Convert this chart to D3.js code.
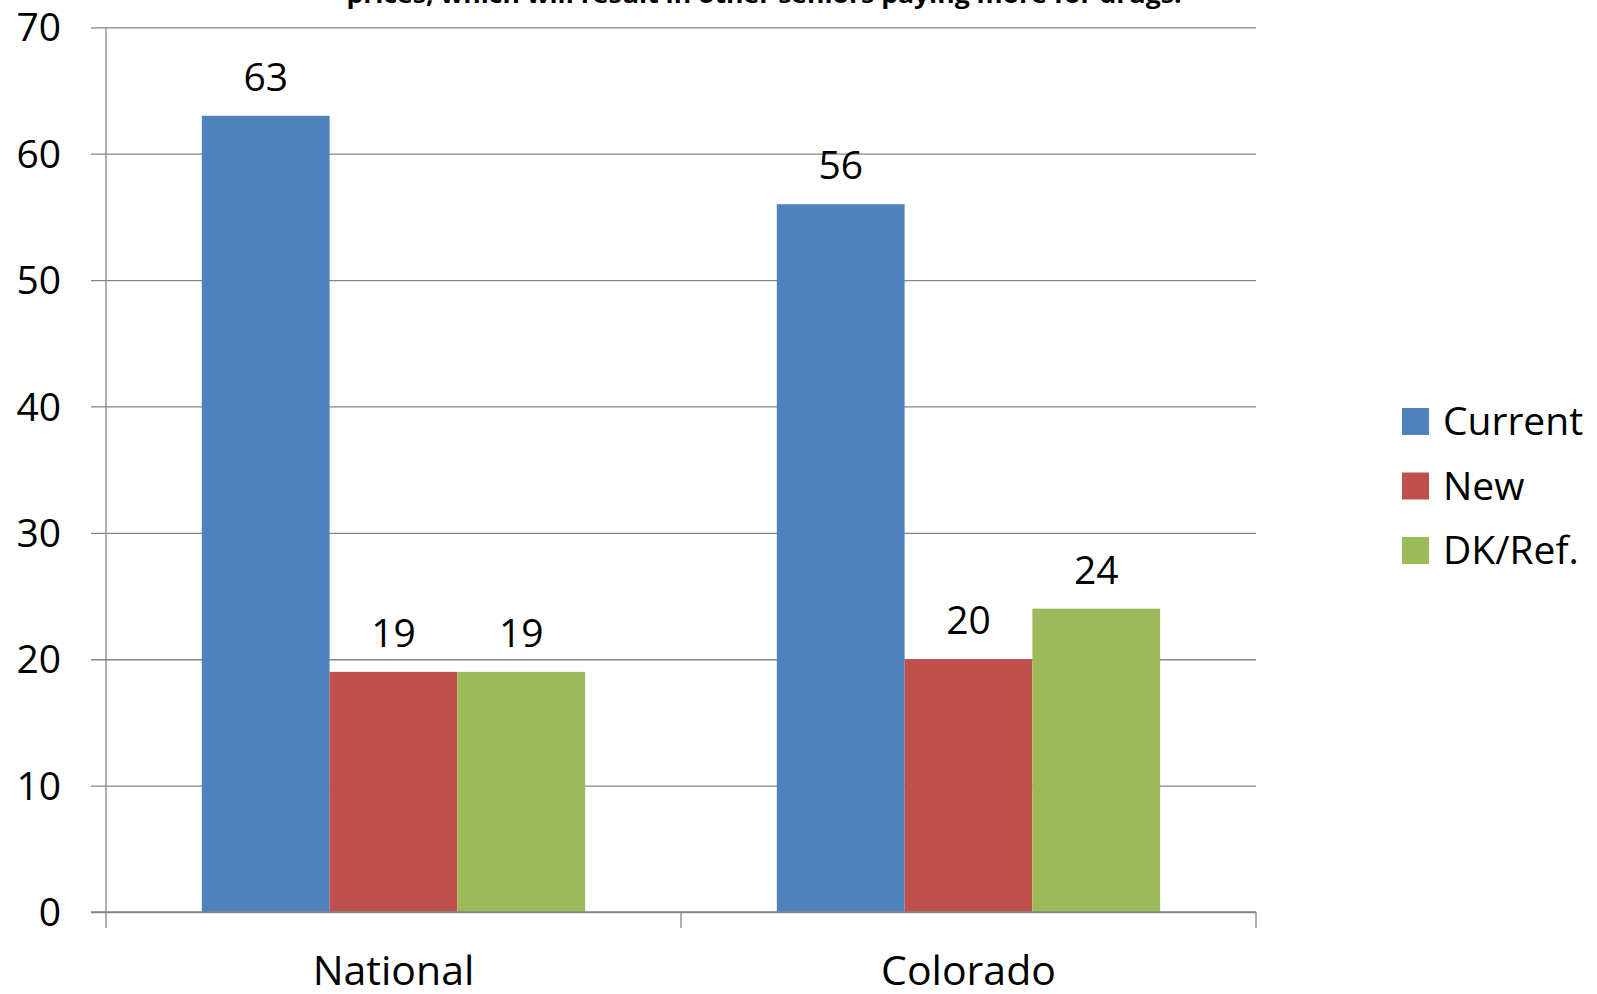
<!DOCTYPE html>
<html>
<head>
<meta charset="utf-8">
<script src="https://cdn.jsdelivr.net/npm/d3@7"></script>
<style>
  html, body { margin: 0; padding: 0; background: #fff; }
  svg { display: block; }
  text { font-family: "Open Sans", sans-serif; fill: #000; }
</style>
</head>
<body>
<script>
const categories = ["National", "Colorado"];
const seriesNames = ["Current", "New", "DK/Ref."];
const current = [63, 56];
const newer = [19, 20];
const dkref = [19, 24];
const yTicks = [0, 10, 20, 30, 40, 50, 60, 70];
const titleText = "prices, which will result in other seniors paying more for drugs.";
const colors = ["#4F81BD", "#C0504D", "#9BBB59"];

const seriesValues = [current, newer, dkref];

const W = 1597, H = 994;
const plotLeft = 106, plotRight = 1256, plotTop = 27.3, plotBottom = 912;

const svg = d3.select("body").append("svg").attr("width", W).attr("height", H);

const x0 = d3.scaleBand().domain(categories).range([plotLeft, plotRight]).paddingInner(0).paddingOuter(0);
const x1 = d3.scaleBand().domain(seriesNames).range([0, x0.bandwidth()]).paddingInner(0).paddingOuter(0.75);
const y = d3.scaleLinear().domain([0, 70]).range([plotBottom, plotTop]);

// title (partially cut off, as in the reference)
svg.append("text")
  .attr("x", 764).attr("y", 3)
  .attr("text-anchor", "middle")
  .attr("font-weight", "bold")
  .attr("font-size", 24)
  .attr("textLength", 835).attr("lengthAdjust", "spacingAndGlyphs")
  .text(titleText);

// gridlines + y tick labels
const yAxis = d3.axisLeft(y).tickValues(yTicks).tickSize(plotRight - plotLeft + 15).tickPadding(30).tickFormat(d3.format("d"));
const gy = svg.append("g").attr("transform", `translate(${plotRight},0)`).call(yAxis);
gy.select(".domain").remove();
gy.selectAll(".tick line").attr("stroke", "#868686").attr("stroke-width", 1.3);
gy.selectAll(".tick text")
  .attr("x", -(plotRight - 61)).attr("text-anchor", "end")
  .attr("font-size", 39).attr("font-family", "Open Sans, sans-serif").attr("fill", "#000").attr("dy", "0.35em");

// y axis line
svg.append("line").attr("x1", plotLeft).attr("x2", plotLeft).attr("y1", plotTop).attr("y2", plotBottom)
  .attr("stroke", "#868686").attr("stroke-width", 1.3);

// bars
const groups = svg.append("g").selectAll("g").data(categories).join("g")
  .attr("transform", d => `translate(${x0(d)},0)`);

groups.each(function(cat, ci) {
  const g = d3.select(this);
  seriesNames.forEach((s, si) => {
    const v = seriesValues[si][ci];
    g.append("rect")
      .attr("x", x1(s)).attr("width", x1.bandwidth())
      .attr("y", y(v)).attr("height", y(0) - y(v))
      .attr("fill", colors[si]);
    g.append("text")
      .attr("x", x1(s) + x1.bandwidth() / 2)
      .attr("y", y(v) - 25)
      .attr("text-anchor", "middle")
      .attr("font-size", 39)
      .text(v);
  });
});

// x axis
const xAxisG = svg.append("g");
xAxisG.append("line").attr("x1", plotLeft - 15).attr("x2", plotRight).attr("y1", plotBottom).attr("y2", plotBottom)
  .attr("stroke", "#868686").attr("stroke-width", 1.5);
const boundaries = categories.map(c => x0(c)).concat([x0(categories[categories.length - 1]) + x0.bandwidth()]);
xAxisG.selectAll("line.tk").data(boundaries).join("line").attr("class", "tk")
  .attr("x1", d => d).attr("x2", d => d).attr("y1", plotBottom).attr("y2", plotBottom + 16)
  .attr("stroke", "#868686").attr("stroke-width", 1.3);
xAxisG.selectAll("text").data(categories).join("text")
  .attr("x", d => x0(d) + x0.bandwidth() / 2)
  .attr("y", 985)
  .attr("text-anchor", "middle")
  .attr("font-size", 41)
  .text(d => d);

// legend
const legend = svg.append("g").selectAll("g").data(seriesNames).join("g")
  .attr("transform", (d, i) => `translate(1402, ${408 + i * 64.5})`);
legend.append("rect").attr("width", 27).attr("height", 27).attr("fill", (d, i) => colors[i]);
legend.append("text").attr("x", 41).attr("y", 27).attr("font-size", 39).text(d => d);
</script>
</body>
</html>
